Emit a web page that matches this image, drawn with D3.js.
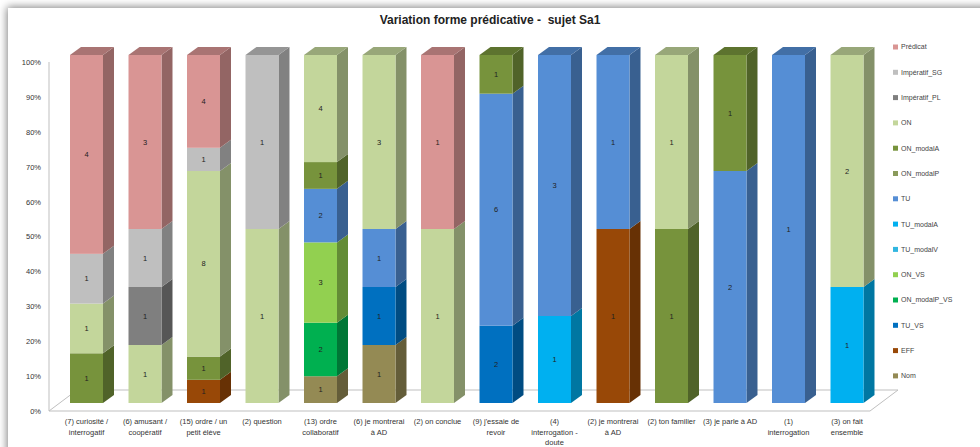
<!DOCTYPE html>
<html><head><meta charset="utf-8">
<script src="https://cdn.jsdelivr.net/npm/d3@7"></script>
<style>html,body{margin:0;padding:0;background:#fff;}svg{display:block;}</style>
</head><body>
<svg id="c" width="980" height="447"></svg>
<script>
// ---- data ----
const categories = [
  "(7) curiosité /\ninterrogatif",
  "(6) amusant /\ncoopératif",
  "(15) ordre / un\npetit élève",
  "(2) question",
  "(13) ordre\ncollaboratif",
  "(6) je montrerai\nà AD",
  "(2) on conclue",
  "(9) j'essaie de\nrevoir",
  "(4)\ninterrogation -\ndoute",
  "(2) je montrerai\nà AD",
  "(2) ton familier",
  "(3) je parle à AD",
  "(1)\ninterrogation",
  "(3) on fait\nensemble"
];
const seriesNames = ["Prédicat","Impératif_SG","Impératif_PL","ON","ON_modalA","ON_modalP","TU","TU_modalA","TU_modalV","ON_VS","ON_modalP_VS","TU_VS","EFF","Nom"];
const seriesColors = ["#D99594","#BFBFBF","#7F7F7F","#C3D69B","#77933C","#8A9A5B","#558ED5","#00B0F0","#31B6E0","#92D050","#00B050","#0070C0","#984807","#948A54"];
const predicat     = [4,3,4,0,0,0,1,0,0,0,0,0,0,0];
const imperatifSG  = [1,1,1,1,0,0,0,0,0,0,0,0,0,0];
const imperatifPL  = [0,1,0,0,0,0,0,0,0,0,0,0,0,0];
const on           = [1,1,8,1,4,3,1,0,0,0,1,0,0,2];
const onModalA     = [1,0,1,0,1,0,0,1,0,0,1,1,0,0];
const onModalP     = [0,0,0,0,0,0,0,0,0,0,0,0,0,0];
const tu           = [0,0,0,0,2,1,0,6,3,1,0,2,1,0];
const tuModalA     = [0,0,0,0,0,0,0,0,1,0,0,0,0,1];
const tuModalV     = [0,0,0,0,0,0,0,0,0,0,0,0,0,0];
const onVS         = [0,0,0,0,3,0,0,0,0,0,0,0,0,0];
const onModalPVS   = [0,0,0,0,2,0,0,0,0,0,0,0,0,0];
const tuVS         = [0,0,0,0,0,1,0,2,0,0,0,0,0,0];
const eff          = [0,0,1,0,0,0,0,0,0,1,0,0,0,0];
const nom          = [0,0,0,0,1,1,0,0,0,0,0,0,0,0];
const yTicks = [0,0.1,0.2,0.3,0.4,0.5,0.6,0.7,0.8,0.9,1];
const title = "Variation forme prédicative -  sujet Sa1";

const seriesValues = [predicat,imperatifSG,imperatifPL,on,onModalA,onModalP,tu,tuModalA,tuModalV,onVS,onModalPVS,tuVS,eff,nom];

// ---- build table ----
const rows = categories.map((c,i)=>{
  const r = {cat:c};
  seriesNames.forEach((s,j)=>{ r[s] = seriesValues[j][i]; });
  return r;
});
const colorOf = d3.scaleOrdinal(seriesNames, seriesColors);
const stackKeys = seriesNames.slice().reverse(); // Nom at bottom
const stacked = d3.stack().keys(stackKeys).offset(d3.stackOffsetExpand)(rows);

const svg = d3.select("#c");
const font = "'Liberation Sans', Arial, sans-serif";

// ---- panel with shadow ----
const defs = svg.append("defs");
const f = defs.append("filter").attr("id","sh").attr("x","-5%").attr("y","-5%").attr("width","110%").attr("height","110%");
f.append("feGaussianBlur").attr("in","SourceAlpha").attr("stdDeviation",4).attr("result","b");
f.append("feOffset").attr("in","b").attr("dx",-1).attr("dy",-1).attr("result","o");
f.append("feComponentTransfer").attr("in","o").attr("result","o2")
  .append("feFuncA").attr("type","linear").attr("slope",0.5);
const fm = f.append("feMerge");
fm.append("feMergeNode").attr("in","o2");
fm.append("feMergeNode").attr("in","SourceGraphic");
svg.append("rect").attr("x",0).attr("y",0).attr("width",980).attr("height",447).attr("fill","#fff");
svg.append("rect").attr("x",8).attr("y",8).attr("width",1000).attr("height",470)
  .attr("fill","#fff").attr("filter","url(#sh)");

// ---- scales ----
const x = d3.scaleBand().domain(categories).range([57.25, 876.25]).paddingInner(0.436).paddingOuter(0.218);
const yBar = d3.scaleLinear().domain([0,1]).range([403,55]);
const yAx = d3.scaleLinear().domain([0,1]).range([411,62]);
const DX = 11, DY = 8;

// ---- floor & axis ----
const fl = {x0:49, x1:870, yF:411, yB:390, dx:28};
svg.append("path")
  .attr("d",`M${fl.x0},${fl.yF}L${fl.x1},${fl.yF}L${fl.x1+fl.dx},${fl.yB}L${fl.x0+fl.dx},${fl.yB}Z`)
  .attr("fill","#fff").attr("stroke","#BFBFBF").attr("stroke-width",1);
svg.append("line").attr("x1",49).attr("x2",49).attr("y1",yAx(1)).attr("y2",yAx(0))
  .attr("stroke","#BFBFBF").attr("stroke-width",1);

const yAxisG = svg.append("g").attr("transform","translate(41,0)")
  .call(d3.axisLeft(yAx).tickValues(yTicks).tickFormat(d3.format(".0%")).tickSize(0).tickPadding(0));
yAxisG.select(".domain").remove();
yAxisG.selectAll("text").attr("font-family",font).attr("font-size",7.5).attr("fill","#333");

// ---- bars ----
const barsG = svg.append("g");
categories.forEach((c,i)=>{
  const bx = x(c), bw = x.bandwidth();
  const g = barsG.append("g");
  let topY = null, topColor = null;
  stacked.forEach(layer=>{
    const d = layer[i];
    if (d[1]-d[0] <= 0) return;
    const col = colorOf(layer.key);
    const y0 = yBar(d[0]), y1 = yBar(d[1]);
    g.append("path")
      .attr("d",`M${bx+bw},${y1}L${bx+bw+DX},${y1-DY}L${bx+bw+DX},${y0-DY}L${bx+bw},${y0}Z`)
      .attr("fill", d3.color(col).darker(1.1));
    g.append("rect").attr("x",bx).attr("y",y1).attr("width",bw).attr("height",y0-y1)
      .attr("fill",col);
    g.append("text").attr("x",bx+bw/2).attr("y",(y0+y1)/2).attr("dy","0.35em")
      .attr("text-anchor","middle").attr("font-family",font).attr("font-size",7.5).attr("fill","#222")
      .text(layer[i].data[layer.key]);
    topY = y1; topColor = col;
  });
  if (topY !== null) {
    g.append("path")
      .attr("d",`M${bx},${topY}L${bx+DX},${topY-DY}L${bx+bw+DX},${topY-DY}L${bx+bw},${topY}Z`)
      .attr("fill", d3.color(topColor).darker(0.7));
  }
});

// ---- x labels ----
const xl = svg.append("g");
categories.forEach(c=>{
  const lines = c.split("\n");
  const t = xl.append("text").attr("x",x(c)+x.bandwidth()/2).attr("y",424)
    .attr("text-anchor","middle").attr("font-family",font).attr("font-size",7.5).attr("fill","#333");
  lines.forEach((ln,k)=>{
    t.append("tspan").attr("x",x(c)+x.bandwidth()/2).attr("dy",k===0?0:10.5).text(ln);
  });
});

// ---- legend ----
const lg = svg.append("g");
seriesNames.forEach((s,i)=>{
  const yy = 47 + i*25.3;
  lg.append("rect").attr("x",893).attr("y",yy-2.5).attr("width",5).attr("height",5).attr("fill",colorOf(s));
  lg.append("text").attr("x",901).attr("y",yy).attr("dy","0.35em")
    .attr("font-family",font).attr("font-size",7).attr("fill","#444").text(s);
});

// ---- title ----
svg.append("text").attr("x",490).attr("y",24).attr("text-anchor","middle")
  .attr("font-family",font).attr("font-size",12).attr("font-weight","bold").attr("fill","#222")
  .style("white-space","pre")
  .text(title);
</script>
</body></html>
